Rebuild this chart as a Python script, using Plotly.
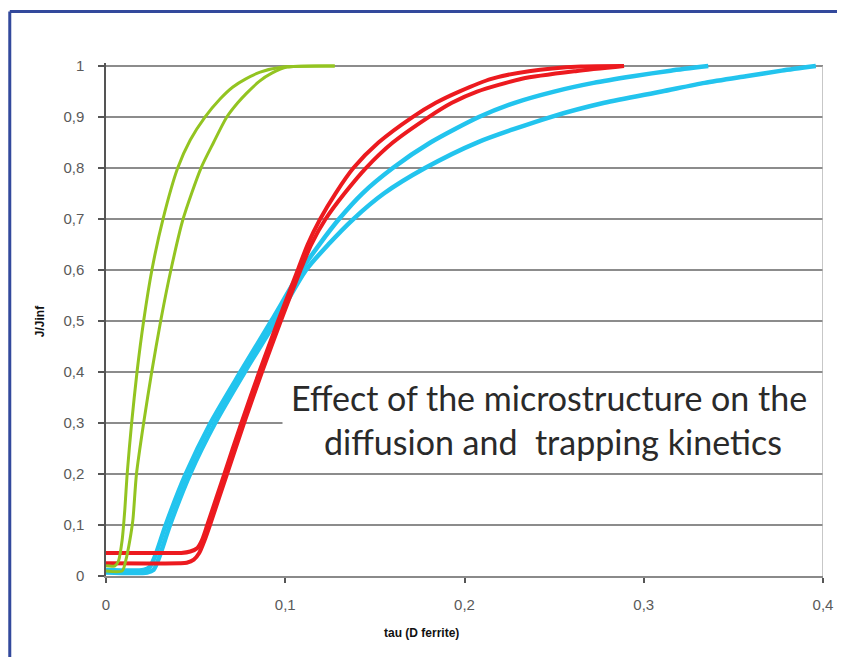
import plotly.graph_objects as go

# ---- data ----
green1_x = [0.0, 0.005, 0.007, 0.009, 0.0105, 0.0118, 0.0143, 0.0173, 0.0210, 0.0256, 0.0318, 0.0400, 0.047, 0.0552, 0.0635, 0.0708, 0.078, 0.086, 0.0986, 0.1276]
green1_y = [0.02, 0.02, 0.03, 0.07, 0.13, 0.2, 0.3, 0.4, 0.5, 0.6, 0.7, 0.8, 0.855, 0.9, 0.935, 0.959, 0.975, 0.988, 0.998, 1.0]
green2_x = [0.0, 0.009, 0.011, 0.0133, 0.015, 0.0170, 0.0210, 0.0255, 0.0305, 0.0362, 0.0430, 0.0530, 0.060, 0.0674, 0.0735, 0.0785, 0.0855, 0.0925, 0.101, 0.1276]
green2_y = [0.01, 0.01, 0.03, 0.07, 0.11, 0.2, 0.3, 0.4, 0.5, 0.6, 0.7, 0.8, 0.85, 0.9, 0.928, 0.947, 0.97, 0.986, 0.998, 1.0]

red1_x = [0.0, 0.038, 0.042, 0.047, 0.051, 0.0535, 0.0565, 0.066, 0.0755, 0.0855, 0.096, 0.107, 0.1125, 0.1195, 0.128, 0.138, 0.152, 0.171, 0.184, 0.197, 0.215, 0.236, 0.265, 0.289]
red1_y = [0.045, 0.045, 0.045, 0.048, 0.055, 0.07, 0.1, 0.2, 0.3, 0.4, 0.5, 0.6, 0.65, 0.7, 0.75, 0.8, 0.85, 0.9, 0.928, 0.95, 0.975, 0.99, 0.999, 1.0]
red2_x = [0.0, 0.041, 0.045, 0.049, 0.052, 0.055, 0.058, 0.0675, 0.077, 0.087, 0.0975, 0.1085, 0.1145, 0.1225, 0.133, 0.145, 0.160, 0.180, 0.193, 0.207, 0.232, 0.262, 0.289]
red2_y = [0.025, 0.025, 0.026, 0.032, 0.045, 0.07, 0.1, 0.2, 0.3, 0.4, 0.5, 0.6, 0.65, 0.7, 0.75, 0.8, 0.85, 0.9, 0.928, 0.95, 0.975, 0.99, 1.0]

cyan1_x = [0.0, 0.021, 0.0245, 0.0275, 0.0333, 0.0445, 0.0583, 0.0750, 0.0922, 0.1090, 0.119, 0.130, 0.143, 0.160, 0.181, 0.208, 0.228, 0.250, 0.272, 0.294, 0.315, 0.336]
cyan1_y = [0.012, 0.012, 0.018, 0.04, 0.1, 0.2, 0.3, 0.4, 0.5, 0.6, 0.65, 0.7, 0.75, 0.8, 0.85, 0.9, 0.928, 0.95, 0.967, 0.98, 0.991, 1.0]
cyan2_x = [0.0, 0.023, 0.0265, 0.0295, 0.0357, 0.0469, 0.0609, 0.0774, 0.0948, 0.1116, 0.124, 0.138, 0.155, 0.178, 0.207, 0.248, 0.278, 0.310, 0.334, 0.357, 0.377, 0.396]
cyan2_y = [0.007, 0.007, 0.012, 0.035, 0.1, 0.2, 0.3, 0.4, 0.5, 0.6, 0.65, 0.7, 0.75, 0.8, 0.85, 0.9, 0.928, 0.95, 0.967, 0.98, 0.991, 1.0]

x_tickvals = [0, 0.1, 0.2, 0.3, 0.4]
x_ticktext = ["0", "0,1", "0,2", "0,3", "0,4"]
y_tickvals = [0, 0.1, 0.2, 0.3, 0.4, 0.5, 0.6, 0.7, 0.8, 0.9, 1.0]
y_ticktext = ["0", "0,1", "0,2", "0,3", "0,4", "0,5", "0,6", "0,7", "0,8", "0,9", "1"]

x_title = "tau (D ferrite)"
y_title = "J/Jinf"
note_line1 = "Effect of the microstructure on the"
note_line2 = "diffusion and  trapping kinetics"

GREEN = "#93c421"
RED = "#ec1a1f"
CYAN = "#22c4ee"

fig = go.Figure()

def add(x, y, color, width):
    fig.add_trace(go.Scatter(x=x, y=y, mode="lines",
                             line=dict(color=color, width=width, shape="spline", smoothing=0.7),
                             hoverinfo="skip", showlegend=False))

add(cyan2_x, cyan2_y, CYAN, 4.5)
add(cyan1_x, cyan1_y, CYAN, 4.5)
add(red2_x, red2_y, RED, 4)
add(red1_x, red1_y, RED, 4)
add(green2_x, green2_y, GREEN, 3)
add(green1_x, green1_y, GREEN, 3)

# the page has an 8px body margin; figure is sized so that the whole window is used
OFF = 8
W, H = 845 - OFF, 657 - OFF
PLOT_L, PLOT_R, PLOT_T, PLOT_B = 106, 825, 63, 576  # page pixels
L, R, T, B = PLOT_L - OFF, 845 - PLOT_R, PLOT_T - OFF, 657 - PLOT_B
PW = PLOT_R - PLOT_L
PH = PLOT_B - PLOT_T

def px_x(px):
    return (px - PLOT_L) / PW

def px_y(py):
    return (PLOT_B - py) / PH

shapes = [
    dict(type="rect", xref="x", yref="y", x0=(283 - 106) / 1797.5, x1=0.4, y0=0.215, y1=0.385,
         fillcolor="white", line=dict(width=0), layer="between"),
    dict(type="line", xref="x", yref="y", x0=0.4, x1=0.4, y0=0, y1=1,
         line=dict(color="#b4b4b4", width=1.5), layer="above"),
    dict(type="line", xref="paper", yref="paper", x0=px_x(9.5), x1=px_x(850), y0=px_y(11.5), y1=px_y(11.5),
         line=dict(color="#33499c", width=3)),
    dict(type="line", xref="paper", yref="paper", x0=px_x(9.5), x1=px_x(9.5), y0=px_y(11.5), y1=px_y(670),
         line=dict(color="#33499c", width=3)),
]

annotations = [
    dict(text="<b>" + y_title + "</b>", xref="paper", yref="paper", x=px_x(40), y=px_y(321), textangle=-90,
         showarrow=False, font=dict(family="Liberation Sans, Arial", size=12, color="#111111"),
         xanchor="center", yanchor="middle"),
    dict(text="<b>" + x_title + "</b>", xref="paper", yref="paper", x=px_x(422), y=px_y(633),
         showarrow=False, font=dict(family="Liberation Sans, Arial", size=12, color="#111111"),
         xanchor="center", yanchor="middle"),
    dict(text=note_line1, xref="paper", yref="paper", x=px_x(550), y=px_y(397),
         showarrow=False, font=dict(family="Lato, Open Sans", size=34, color="#2a2a2a"),
         xanchor="center", yanchor="middle"),
    dict(text=note_line2, xref="paper", yref="paper", x=px_x(554), y=px_y(441),
         showarrow=False, font=dict(family="Lato, Open Sans", size=34, color="#2a2a2a"),
         xanchor="center", yanchor="middle"),
]

fig.update_layout(
    width=W, height=H,
    margin=dict(l=L, r=R, t=T, b=B),
    paper_bgcolor="white", plot_bgcolor="white",
    shapes=shapes, annotations=annotations,
    showlegend=False,
)
fig.update_xaxes(range=[0, 0.4], tickvals=x_tickvals, ticktext=x_ticktext,
                 showgrid=False, zeroline=False, showline=True, linecolor="#8a8a8a", linewidth=2,
                 ticks="outside", ticklen=5, tickcolor="#555555", tickwidth=1.5,
                 tickfont=dict(family="Liberation Sans, Arial", size=15, color="#5a5a5a"),
                 ticklabelstandoff=9)
fig.update_yaxes(range=[0, 1.006], tickvals=y_tickvals, ticktext=y_ticktext,
                 showgrid=True, gridcolor="#8c8c8c", gridwidth=2, zeroline=False,
                 showline=True, linecolor="#555555", linewidth=1.5,
                 ticks="outside", ticklen=6, tickcolor="#555555", tickwidth=1.5,
                 tickfont=dict(family="Liberation Sans, Arial", size=15, color="#5a5a5a"),
                 ticklabelstandoff=11)

fig.write_html("out.html")
